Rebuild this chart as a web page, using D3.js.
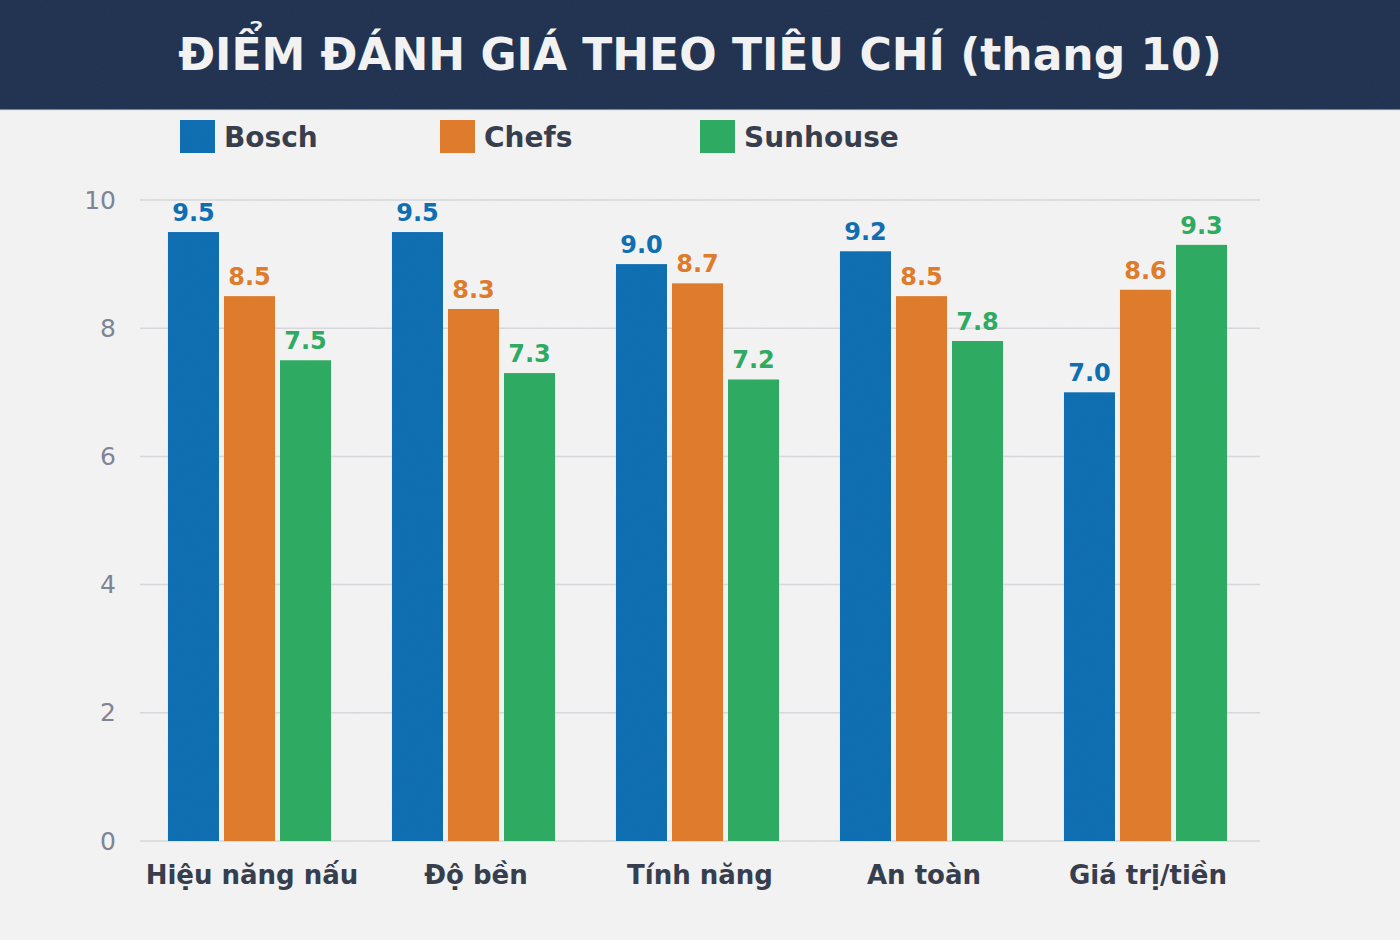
<!DOCTYPE html>
<html>
<head>
<meta charset="utf-8">
<script src="https://cdn.jsdelivr.net/npm/d3@7"></script>
<style>
  html, body { margin: 0; padding: 0; background: #f2f2f2; }
  svg { display: block; font-family: "DejaVu Sans", sans-serif; }
</style>
</head>
<body>
<svg id="chart" width="1400" height="940"></svg>
<script>
// data
const categories = ['Hiệu năng nấu', 'Độ bền', 'Tính năng', 'An toàn', 'Giá trị/tiền'];
const series = ['Bosch', 'Chefs', 'Sunhouse'];
const bosch = [9.5, 9.5, 9.0, 9.2, 7.0];
const chefs = [8.5, 8.3, 8.7, 8.5, 8.6];
const sunhouse = [7.5, 7.3, 7.2, 7.8, 9.3];
const yTicks = [0, 2, 4, 6, 8, 10];

const colors = { Bosch: '#0c6db1', Chefs: '#df7a29', Sunhouse: '#2caa60' };
const values = { Bosch: bosch, Chefs: chefs, Sunhouse: sunhouse };

const W = 1400, H = 940;
const svg = d3.select('#chart');

// subtle paper noise
const defs = svg.append('defs');
const f = defs.append('filter').attr('id', 'noise').attr('x', 0).attr('y', 0).attr('width', '100%').attr('height', '100%');
f.append('feTurbulence').attr('type', 'fractalNoise').attr('baseFrequency', 0.9).attr('numOctaves', 2).attr('seed', 3);
f.append('feColorMatrix').attr('type', 'matrix')
  .attr('values', '0 0 0 0 0.5  0 0 0 0 0.5  0 0 0 0 0.5  0 0 0 0.04 0');

svg.append('rect').attr('width', W).attr('height', H).attr('fill', '#f3f3f3');

// header
svg.append('rect').attr('width', W).attr('height', 110).attr('fill', '#1f314f');
svg.append('line').attr('x1', 0).attr('x2', W).attr('y1', 110).attr('y2', 110)
  .attr('stroke', '#d8dbe2').attr('stroke-width', 1);
svg.append('text')
  .attr('x', W / 2).attr('y', 70)
  .attr('text-anchor', 'middle')
  .attr('font-size', 44).attr('font-weight', 'bold')
  .attr('fill', '#f3f3f3')
  .text('ĐIỂM ĐÁNH GIÁ THEO TIÊU CHÍ (thang 10)');

// legend
const legend = svg.append('g');
series.forEach((s, i) => {
  const lx = 180 + i * 260;
  legend.append('rect').attr('x', lx).attr('y', 120).attr('width', 35).attr('height', 33).attr('fill', colors[s]);
  legend.append('text').attr('x', lx + 44).attr('y', 146.5)
    .attr('font-size', 28).attr('font-weight', 'bold').attr('fill', '#343b4b')
    .text(s);
});

// scales
const y = d3.scaleLinear().domain([0, 10]).range([841, 200]);
const x0 = d3.scaleBand().domain(categories).range([137.5, 1257.5]).paddingInner(0.272).paddingOuter(0.136);
const x1 = d3.scaleBand().domain(series).range([0, x0.bandwidth()]).paddingInner(0.089);

// grid
svg.append('g').selectAll('line').data(yTicks).join('line')
  .attr('x1', 140).attr('x2', 1260)
  .attr('y1', d => y(d)).attr('y2', d => y(d))
  .attr('stroke', '#d6d8dd').attr('stroke-width', 1.5);

// y axis
const yAxis = svg.append('g').attr('transform', 'translate(116,0)')
  .call(d3.axisLeft(y).tickValues(yTicks).tickSize(0).tickPadding(0));
yAxis.select('.domain').remove();
yAxis.selectAll('text').attr('font-size', 25).attr('fill', '#7c8494')
  .attr('font-family', '"DejaVu Sans", sans-serif');

// bars
const groups = svg.append('g').selectAll('g').data(categories).join('g')
  .attr('transform', d => `translate(${x0(d)},0)`);

groups.selectAll('rect')
  .data((c, ci) => series.map(s => ({ s, v: values[s][ci] })))
  .join('rect')
  .attr('x', d => x1(d.s))
  .attr('y', d => y(d.v))
  .attr('width', x1.bandwidth())
  .attr('height', d => y(0) - y(d.v))
  .attr('fill', d => colors[d.s]);

groups.selectAll('text.val')
  .data((c, ci) => series.map(s => ({ s, v: values[s][ci] })))
  .join('text')
  .attr('class', 'val')
  .attr('x', d => x1(d.s) + x1.bandwidth() / 2)
  .attr('y', d => y(d.v) - 11)
  .attr('text-anchor', 'middle')
  .attr('font-size', 24).attr('font-weight', 'bold')
  .attr('fill', d => colors[d.s])
  .text(d => d.v.toFixed(1));

// x axis labels
const xAxis = svg.append('g').attr('transform', 'translate(2.5,841)')
  .call(d3.axisBottom(x0).tickSize(0).tickPadding(0));
xAxis.select('.domain').remove();
xAxis.selectAll('text').attr('dy', 0).attr('y', 43)
  .attr('font-size', 26).attr('font-weight', 'bold').attr('fill', '#343b4b')
  .attr('font-family', '"DejaVu Sans", sans-serif');

// noise overlay
svg.append('rect').attr('width', W).attr('height', H).attr('filter', 'url(#noise)').attr('pointer-events', 'none');
</script>
</body>
</html>
